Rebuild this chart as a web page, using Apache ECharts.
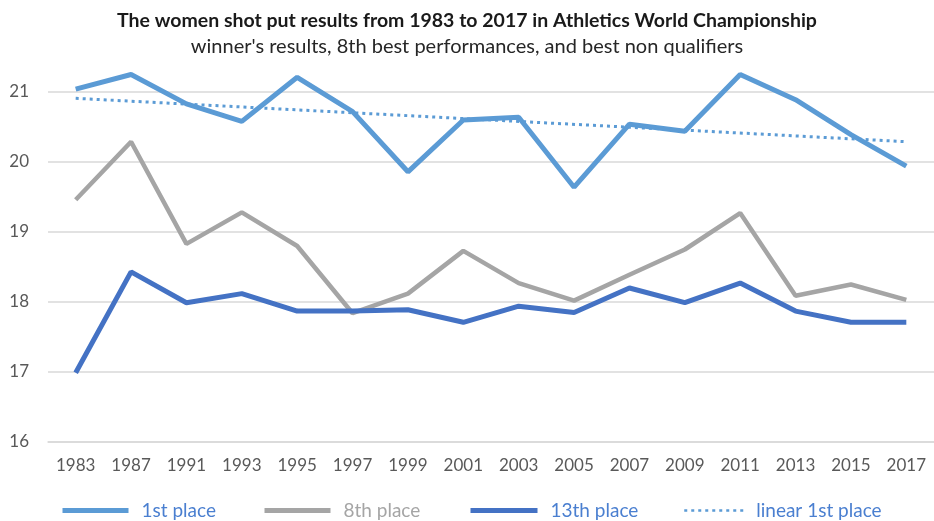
<!DOCTYPE html>
<html>
<head>
<meta charset="utf-8">
<script src="https://cdn.jsdelivr.net/npm/echarts@6/dist/echarts.min.js"></script>
<style>
  html, body { margin: 0; padding: 0; background: #fff; }
  #chart { width: 934px; height: 521px; }
</style>
</head>
<body>
<div id="chart"></div>
<script>
// championship years
const years = ['1983', '1987', '1991', '1993', '1995', '1997', '1999', '2001',
               '2003', '2005', '2007', '2009', '2011', '2013', '2015', '2017'];
// winner's results
const firstPlace = [21.04, 21.25, 20.83, 20.58, 21.21, 20.72, 19.86, 20.60,
                    20.64, 19.64, 20.54, 20.44, 21.25, 20.89, 20.39, 19.94];
// 8th best performance
const eighthPlace = [19.46, 20.29, 18.83, 19.28, 18.80, 17.84, 18.12, 18.73,
                     18.27, 18.02, 18.39, 18.75, 19.27, 18.09, 18.25, 18.03];
// best non qualifier
const thirteenthPlace = [16.99, 18.43, 17.99, 18.12, 17.87, 17.87, 17.89, 17.71,
                         17.94, 17.85, 18.20, 17.99, 18.27, 17.87, 17.71, 17.71];
// trend line, read at its two ends
const linearFirst = [20.91, null, null, null, null, null, null, null,
                     null, null, null, null, null, null, null, 20.29];

const FONT = 'Lato';
const chart = echarts.init(document.getElementById('chart'), null, { renderer: 'canvas' });

// one legend per entry so each can sit where the original has it
function legendItem(name, left, width, textColor, lineWidth) {
    return {
        bottom: -4,
        left: left,
        itemWidth: width,
        itemHeight: 12,
        itemStyle: { opacity: 0 },
        textStyle: { fontFamily: FONT, fontSize: 19, color: textColor, padding: [0, 0, 0, 8] },
        data: [{ name: name, lineStyle: { width: lineWidth } }]
    };
}

const option = {
    animation: false,
    title: [
        {
            text: 'The women shot put results from 1983 to 2017 in Athletics World Championship',
            left: 'center',
            top: 6,
            textStyle: { fontFamily: FONT, fontSize: 19.5, fontWeight: 'bold', color: '#1a1a1a' }
        },
        {
            text: "winner's results, 8th best performances, and best non qualifiers",
            left: 'center',
            top: 32,
            textStyle: { fontFamily: FONT, fontSize: 20, fontWeight: 'normal', color: '#262626' }
        }
    ],
    legend: [
        legendItem('1st place', 55, 66, '#4a7fd0', 5),
        legendItem('8th place', 257, 66, '#a5a5a5', 5),
        legendItem('13th place', 463, 67, '#4a7fd0', 5),
        legendItem('linear 1st place', 678, 59, '#4a7fd0', 2.5)
    ],
    grid: { left: 48, right: 0, top: 92, bottom: 79 },
    xAxis: {
        type: 'category',
        data: years,
        boundaryGap: true,
        axisLine: { lineStyle: { color: '#d9d9d9', width: 1.5 } },
        axisTick: { show: false },
        axisLabel: { fontFamily: FONT, fontSize: 17, color: '#595959', margin: 15 }
    },
    yAxis: {
        type: 'value',
        min: 16,
        max: 21,
        interval: 1,
        axisLine: { show: false },
        axisTick: { show: false },
        axisLabel: { fontFamily: FONT, fontSize: 17, color: '#595959', margin: 19 },
        splitLine: { lineStyle: { color: '#d9d9d9', width: 1.5 } }
    },
    series: [
        {
            name: '1st place',
            type: 'line',
            data: firstPlace,
            symbol: 'none',
            clip: false,
            color: '#5b9bd5',
            lineStyle: { width: 5, color: '#5b9bd5' }
        },
        {
            name: '8th place',
            type: 'line',
            data: eighthPlace,
            symbol: 'none',
            clip: false,
            color: '#a5a5a5',
            lineStyle: { width: 4.5, color: '#a5a5a5' }
        },
        {
            name: '13th place',
            type: 'line',
            data: thirteenthPlace,
            symbol: 'none',
            clip: false,
            color: '#4472c4',
            lineStyle: { width: 5, color: '#4472c4' }
        },
        {
            name: 'linear 1st place',
            type: 'line',
            data: linearFirst,
            connectNulls: true,
            symbol: 'none',
            clip: false,
            color: '#5b9bd5',
            lineStyle: { width: 3, color: '#5b9bd5', type: [3, 4] }
        }
    ]
};

chart.setOption(option);
</script>
</body>
</html>
